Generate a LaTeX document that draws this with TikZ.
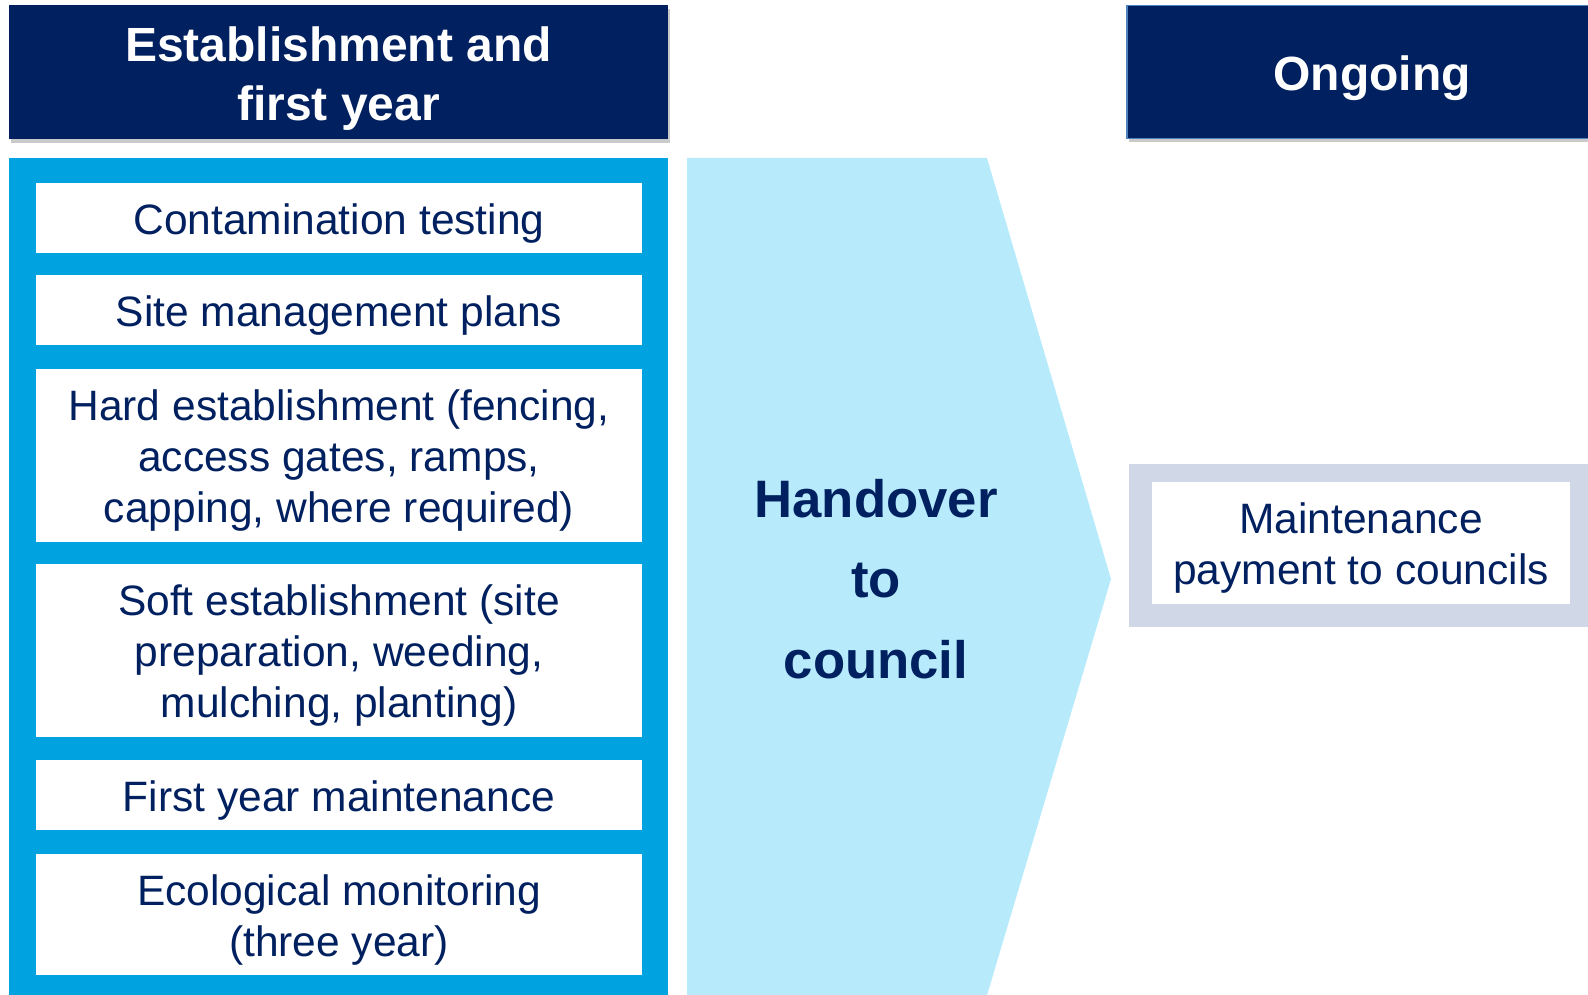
\documentclass[tikz,border=0pt]{standalone}
\usepackage{fontspec}
\setmainfont{Liberation Sans}
\usetikzlibrary{shadows}
\definecolor{navy}{RGB}{0,32,96}
\definecolor{panelblue}{RGB}{0,163,224}
\definecolor{chevblue}{RGB}{183,235,252}
\definecolor{greyframe}{RGB}{208,216,232}
\definecolor{hdrborder}{RGB}{79,129,189}
\begin{document}
\begin{tikzpicture}[x=1pt,y=-1pt,
  header/.style={fill=navy, inner sep=0pt, anchor=center,
    drop shadow={shadow xshift=2pt, shadow yshift=-4pt, opacity=0.35, fill=black!60}},
  headertext/.style={text=white, font=\fontsize{48}{59}\selectfont\bfseries,
    align=center, inner sep=0pt, anchor=center},
  itembox/.style={fill=white, inner sep=0pt, anchor=center, minimum width=606.5pt},
  itemtext/.style={text=navy, font=\fontsize{42.5}{51}\selectfont,
    align=center, inner sep=0pt, anchor=center},
  panel/.style={fill=panelblue, inner sep=0pt, anchor=center},
]
\useasboundingbox (0,0) rectangle (1588,995);
% headers
\node[header, minimum width=659pt, minimum height=134pt] (hL) at (338.5,72) {};
\node[headertext] (hLt) at ([yshift=-6.5pt]hL.center) {Establishment and\\first year};
\node[header, draw=hdrborder, line width=1.5pt, minimum width=490pt, minimum height=133pt] (hR) at (1372,72) {};
\node[headertext] (hRt) at ([yshift=-6pt]hR.center) {Ongoing};
% left panel
\node[panel, minimum width=659pt, minimum height=842pt] (pan) at (338.5,579) {};
\node[itembox, minimum height=70pt] (b1) at (339,218) {};
\node[itembox, minimum height=70pt] (b2) at (339,310) {};
\node[itembox, minimum height=173pt] (b3) at (339,455.5) {};
\node[itembox, minimum height=173pt] (b4) at (339,650.5) {};
\node[itembox, minimum height=70pt] (b5) at (339,795) {};
\node[itembox, minimum height=121pt] (b6) at (339,914.5) {};
\node[itemtext] (t1) at ([yshift=-6pt]b1.center) {Contamination testing};
\node[itemtext] (t2) at ([yshift=-6pt]b2.center) {Site management plans};
\node[itemtext] (t3) at ([yshift=-5.5pt]b3.center) {Hard establishment (fencing,\\access gates, ramps,\\capping, where required)};
\node[itemtext] (t4) at ([yshift=-5.5pt]b4.center) {Soft establishment (site\\preparation, weeding,\\mulching, planting)};
\node[itemtext] (t5) at ([yshift=-6pt]b5.center) {First year maintenance};
\node[itemtext] (t6) at ([yshift=-6pt]b6.center) {Ecological monitoring\\(three year)};
% chevron
\fill[chevblue] (687,158) -- (987,158) -- (1111,579) -- (985,1002) -- (687,1002) -- cycle;
\node[text=navy, font=\fontsize{52.7}{80.5}\selectfont\bfseries, align=center] (ho) at (876,579) {Handover\\to\\council};
% right grey box
\node[fill=greyframe, inner sep=0pt, minimum width=464pt, minimum height=163pt] (gO) at (1361,545.5) {};
\node[itembox, minimum width=418pt, minimum height=122pt] (gI) at (1361,543) {};
\node[itemtext] (gIt) at ([yshift=-5.5pt]gI.center) {Maintenance\\payment to councils};
\end{tikzpicture}
\end{document}
